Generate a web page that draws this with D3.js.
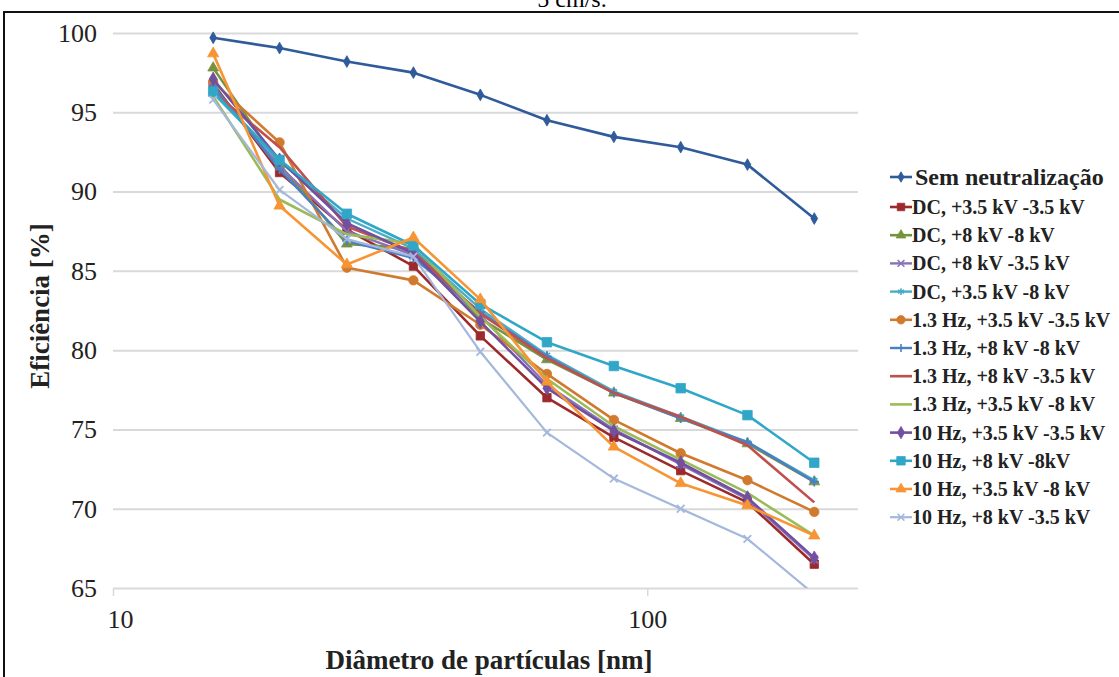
<!DOCTYPE html>
<html>
<head>
<meta charset="utf-8">
<script src="https://cdn.jsdelivr.net/npm/d3@7"></script>
<style>
  body { margin: 0; background: #fff; }
  svg { display: block; font-family: "Liberation Serif", "DejaVu Serif", serif; }
</style>
</head>
<body>
<svg id="chart" width="1119" height="677"></svg>
<script>
// particle diameters [nm] (NanoScan channels)
const diameters = [15.4, 20.5, 27.4, 36.5, 48.7, 64.9, 86.6, 115.5, 154.0, 205.4];

const seriesNames = [
  "Sem neutralização",
  "DC, +3.5 kV -3.5 kV",
  "DC, +8 kV -8 kV",
  "DC, +8 kV -3.5 kV",
  "DC, +3.5 kV -8 kV",
  "1.3 Hz, +3.5 kV -3.5 kV",
  "1.3 Hz, +8 kV -8 kV",
  "1.3 Hz, +8 kV -3.5 kV",
  "1.3 Hz, +3.5 kV -8 kV",
  "10 Hz, +3.5 kV -3.5 kV",
  "10 Hz, +8 kV -8kV",
  "10 Hz, +3.5 kV -8 kV",
  "10 Hz, +8 kV -3.5 kV"
];

// efficiency [%]
const semNeutralizacao = [99.7, 99.05, 98.2, 97.5, 96.1, 94.5, 93.45, 92.8, 91.7, 88.3];
const dc35_35 = [96.8, 91.2, 87.6, 85.3, 80.9, 77.0, 74.5, 72.4, 70.4, 66.5];
const dc8_8 = [97.8, 91.7, 86.7, 86.4, 82.0, 79.4, 77.3, 75.7, 74.1, 71.7];
const dc8_35 = [96.5, 91.6, 87.5, 86.0, 82.2, 77.8, 75.0, 72.8, 70.6, 66.8];
const dc35_8 = [96.2, 91.9, 88.3, 86.4, 82.6, 79.7, 77.4, 75.8, 74.2, 71.8];
const hz13_35_35 = [96.9, 93.1, 85.2, 84.4, 81.6, 78.5, 75.6, 73.5, 71.8, 69.8];
const hz13_8_8 = [96.7, 91.4, 86.9, 85.8, 82.4, 79.6, 77.3, 75.7, 74.2, 71.7];
const hz13_8_35 = [96.3, 92.8, 87.8, 86.2, 82.3, 79.5, 77.3, 75.8, 74.0, 70.4];
const hz13_35_8 = [96.0, 89.5, 87.3, 86.7, 82.1, 78.2, 75.2, 73.1, 71.0, 68.3];
const hz10_35_35 = [97.1, 92.0, 88.0, 86.1, 81.8, 77.6, 74.9, 72.9, 70.7, 66.9];
const hz10_8_8 = [96.3, 92.0, 88.6, 86.6, 82.9, 80.5, 79.0, 77.6, 75.9, 72.9];
const hz10_35_8 = [98.7, 89.1, 85.4, 87.1, 83.2, 78.0, 73.9, 71.6, 70.2, 68.3];
const hz10_8_35 = [95.8, 90.1, 87.0, 85.9, 79.9, 74.8, 71.9, 70.0, 68.1, 64.6];

const yTicks = [65, 70, 75, 80, 85, 90, 95, 100];
const xTicks = [10, 100];

const allValues = [semNeutralizacao, dc35_35, dc8_8, dc8_35, dc35_8, hz13_35_35, hz13_8_8,
  hz13_8_35, hz13_35_8, hz10_35_35, hz10_8_8, hz10_35_8, hz10_8_35];

const styles = [
  { color: "#2f5b9a", symbol: d3.symbolDiamond, size: 40, width: 2.6 },
  { color: "#9c2a2c", symbol: d3.symbolSquare, size: 70, width: 2.6 },
  { color: "#76933c", symbol: d3.symbolTriangle, size: 50, width: 2.6 },
  { color: "#8a72b8", symbol: d3.symbolTimes, size: 40, width: 2.4 },
  { color: "#4bacc6", symbol: d3.symbolAsterisk, size: 40, width: 2.4 },
  { color: "#d07a2e", symbol: d3.symbolCircle, size: 70, width: 2.6 },
  { color: "#4a7fc4", symbol: d3.symbolPlus, size: 30, width: 2.4 },
  { color: "#c0504d", symbol: null, size: 0, width: 2.6 },
  { color: "#9bbb59", symbol: null, size: 0, width: 2.6 },
  { color: "#7150a0", symbol: d3.symbolDiamond, size: 55, width: 2.6 },
  { color: "#31a7c8", symbol: d3.symbolSquare, size: 90, width: 2.6 },
  { color: "#f79433", symbol: d3.symbolTriangle, size: 55, width: 2.6 },
  { color: "#a3b8dc", symbol: d3.symbolTimes, size: 40, width: 2.2 }
];

const series = seriesNames.map((name, i) => ({
  name,
  values: allValues[i].map((v, j) => ({ d: diameters[j], v })),
  ...styles[i]
}));

const svg = d3.select("#chart");

const plotLeft = 113, plotRight = 858, plotTop = 33, plotBottom = 588;
const x = d3.scaleLog().domain([10, 248]).range([plotLeft, plotRight]);
const y = d3.scaleLinear().domain([65, 100]).range([plotBottom, plotTop]);

// frame around the figure
svg.append("rect")
  .attr("x", 4).attr("y", 12)
  .attr("width", 1200).attr("height", 800)
  .attr("fill", "none").attr("stroke", "#111").attr("stroke-width", 2);

// caption fragment cut at top
svg.append("text")
  .attr("x", 572).attr("y", 7)
  .attr("text-anchor", "middle")
  .attr("font-size", 24)
  .text("5 cm/s.");

// gridlines + y labels
const yAxis = svg.append("g")
  .attr("transform", `translate(${plotLeft},0)`)
  .call(d3.axisLeft(y).tickValues(yTicks).tickSize(-(plotRight - plotLeft)).tickPadding(16).tickFormat(d3.format("d")));
yAxis.select(".domain").remove();
yAxis.selectAll(".tick line").attr("stroke", "#d9d9d9").attr("stroke-width", 2);
yAxis.selectAll(".tick text").attr("font-size", 26).attr("fill", "#222").attr("font-family", "Liberation Serif");

// x axis
const xAxis = svg.append("g")
  .attr("transform", `translate(0,${plotBottom})`)
  .call(d3.axisBottom(x).tickValues(xTicks).tickSize(8).tickPadding(14).tickFormat(d3.format("d")));
xAxis.select(".domain").remove();
xAxis.selectAll(".tick line").attr("stroke", "#d9d9d9").attr("stroke-width", 1.5);
xAxis.selectAll(".tick text").attr("font-size", 26).attr("fill", "#222").attr("font-family", "Liberation Serif");
xAxis.selectAll(".tick").filter(d => d === 10).select("text").attr("dx", 7);

// axis titles
svg.append("text")
  .attr("x", 489).attr("y", 669)
  .attr("text-anchor", "middle")
  .attr("font-size", 27).attr("font-weight", "bold").attr("fill", "#222")
  .text("Diâmetro de partículas [nm]");

svg.append("text")
  .attr("transform", "translate(49,306) rotate(-90)")
  .attr("text-anchor", "middle")
  .attr("font-size", 27).attr("font-weight", "bold").attr("fill", "#222")
  .text("Eficiência [%]");

// plot area clip
svg.append("defs").append("clipPath").attr("id", "plot")
  .append("rect").attr("x", plotLeft).attr("y", plotTop - 10).attr("width", plotRight - plotLeft).attr("height", plotBottom - plotTop + 10);

const line = d3.line().x(p => x(p.d)).y(p => y(p.v));

const plot = svg.append("g").attr("clip-path", "url(#plot)");

const strokeOnly = s => s === d3.symbolTimes || s === d3.symbolAsterisk || s === d3.symbolPlus;

series.forEach(s => {
  const g = plot.append("g");
  g.append("path")
    .attr("d", line(s.values))
    .attr("fill", "none")
    .attr("stroke", s.color)
    .attr("stroke-width", s.width)
    .attr("stroke-linejoin", "round");
  if (s.symbol) {
    g.selectAll("path.m")
      .data(s.values)
      .join("path")
      .attr("class", "m")
      .attr("transform", p => `translate(${x(p.d)},${y(p.v)})`)
      .attr("d", d3.symbol(s.symbol, s.size))
      .attr("fill", strokeOnly(s.symbol) ? "none" : s.color)
      .attr("stroke", s.color)
      .attr("stroke-width", strokeOnly(s.symbol) ? 1.8 : 0.8);
  }
});

// legend
const legend = svg.append("g");
series.forEach((s, i) => {
  const yy = i === 0 ? 177 : 207 + (i - 1) * 28.2;
  const g = legend.append("g").attr("transform", `translate(890,${yy})`);
  g.append("line").attr("x1", 0).attr("x2", 22).attr("stroke", s.color).attr("stroke-width", s.width);
  if (s.symbol) {
    g.append("path")
      .attr("transform", "translate(11,0)")
      .attr("d", d3.symbol(s.symbol, s.size * 0.8))
      .attr("fill", strokeOnly(s.symbol) ? "none" : s.color)
      .attr("stroke", s.color)
      .attr("stroke-width", strokeOnly(s.symbol) ? 1.6 : 0.8);
  }
  g.append("text")
    .attr("x", i === 0 ? 25 : 22)
    .attr("dy", "0.35em")
    .attr("font-size", i === 0 ? 24 : 20)
    .attr("font-weight", "bold")
    .attr("fill", "#222")
    .text(s.name);
});
</script>
</body>
</html>
